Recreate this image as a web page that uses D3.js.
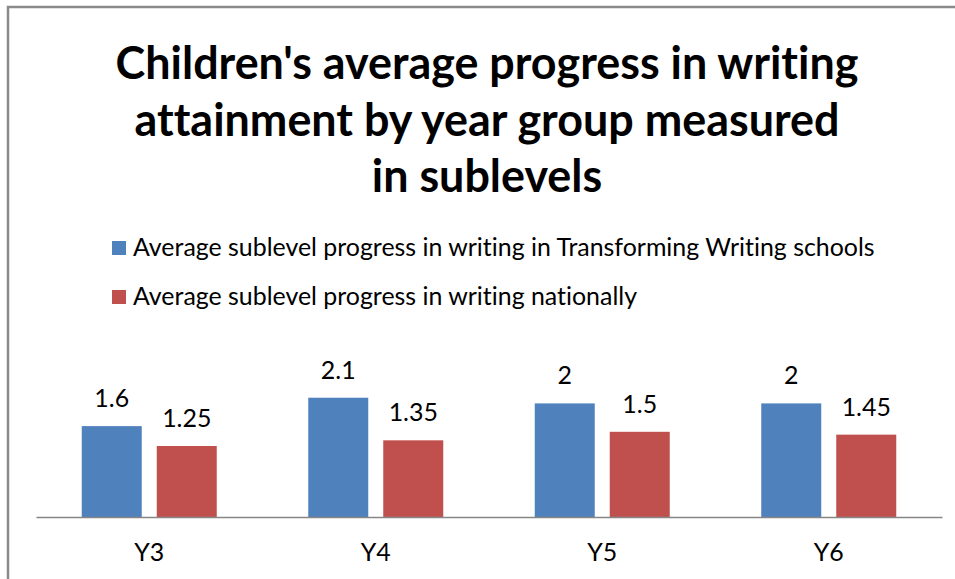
<!DOCTYPE html>
<html>
<head>
<meta charset="utf-8">
<script src="https://cdn.jsdelivr.net/npm/d3@7"></script>
<style>
  body { margin: 0; background: #fff; }
  svg { display: block; }
  text { font-family: Lato, "Open Sans", sans-serif; fill: #000; font-variant-ligatures: none; }
</style>
</head>
<body>
<div id="chart"></div>
<script>
/** Chart data */
var years = ['Y3', 'Y4', 'Y5', 'Y6'];
var seriesNames = ['Average sublevel progress in writing in Transforming Writing schools',
                   'Average sublevel progress in writing nationally'];
var twValues = [1.6, 2.1, 2, 2];
var nationalValues = [1.25, 1.35, 1.5, 1.45];
var seriesColors = ['#4f81bd', '#c0504d'];
var titleLines = ["Children's average progress in writing",
                  'attainment by year group measured',
                  'in sublevels'];

var width = 955,
    height = 579;

var svg = d3.select('#chart').append('svg')
    .attr('width', width)
    .attr('height', height);

// chart border (top and left edges visible)
svg.append('path')
    .attr('d', 'M8,' + (height + 5) + 'V7H' + (width + 5))
    .attr('fill', 'none')
    .attr('stroke', '#8a8a8a')
    .attr('stroke-width', 2.5);

/** fit a text element's font size so it spans the given width */
function fitText(sel, target) {
    var size = parseFloat(sel.attr('font-size'));
    var w = sel.node().getComputedTextLength();
    sel.attr('font-size', size * target / w);
    return size * target / w;
}

// title
var titleSize = 38;
var t0 = svg.append('text')
    .attr('font-size', titleSize)
    .attr('font-weight', 'bold')
    .text(titleLines[0]);
titleSize = fitText(t0, 743);
t0.remove();

svg.selectAll('.title').data(titleLines)
    .enter()
    .append('text')
    .attr('class', 'title')
    .attr('x', 487)
    .attr('y', function (d, i) { return 79 + i * 56.5; })
    .attr('text-anchor', 'middle')
    .attr('font-weight', 'bold')
    .attr('font-size', titleSize)
    .text(function (d) { return d; });

// legend
var labelSize = 22;
var lt = svg.append('text')
    .attr('font-size', labelSize)
    .text(seriesNames[0]);
labelSize = fitText(lt, 742);
lt.remove();

var legend = svg.selectAll('.legend').data(seriesNames)
    .enter()
    .append('g')
    .attr('class', 'legend')
    .attr('transform', function (d, i) { return 'translate(112,' + (241 + i * 49) + ')'; });

legend.append('rect')
    .attr('width', 14)
    .attr('height', 14)
    .attr('fill', function (d, i) { return seriesColors[i]; });

legend.append('text')
    .attr('x', 21)
    .attr('y', 15)
    .attr('font-size', labelSize)
    .text(function (d) { return d; });

// scales
var x0 = d3.scaleBand()
    .domain(years)
    .range([36, 942]);

var x1 = d3.scaleBand()
    .domain([0, 1])
    .range([45.75, x0.bandwidth() - 45.75])
    .paddingInner(0.2);

var y = d3.scaleLinear()
    .domain([0, 2.5])
    .range([517, 517 - 142]);

var groups = svg.selectAll('.year').data(years)
    .enter()
    .append('g')
    .attr('class', 'year')
    .attr('transform', function (d) { return 'translate(' + x0(d) + ',0)'; });

var bars = groups.selectAll('.bar').data(function (d, i) {
        return [{s: 0, value: twValues[i]}, {s: 1, value: nationalValues[i]}];
    })
    .enter();

bars.append('rect')
    .attr('x', function (d) { return x1(d.s); })
    .attr('y', function (d) { return y(d.value); })
    .attr('width', x1.bandwidth())
    .attr('height', function (d) { return y(0) - y(d.value); })
    .attr('fill', function (d) { return seriesColors[d.s]; });

bars.append('text')
    .attr('x', function (d) { return x1(d.s) + x1.bandwidth() / 2; })
    .attr('y', function (d) { return y(d.value) - 19; })
    .attr('text-anchor', 'middle')
    .attr('font-size', labelSize)
    .text(function (d) { return d.value; });

// category axis
var xAxis = d3.axisBottom(x0).tickSize(0).tickPadding(26);
var gx = svg.append('g')
    .attr('transform', 'translate(0,' + y(0) + ')')
    .call(xAxis);
gx.select('.domain')
    .attr('stroke', '#868686')
    .attr('stroke-width', 1.5);
gx.selectAll('.tick text')
    .attr('font-size', labelSize)
    .attr('font-family', 'Lato, "Open Sans", sans-serif')
    .attr('fill', '#000');
</script>
</body>
</html>
